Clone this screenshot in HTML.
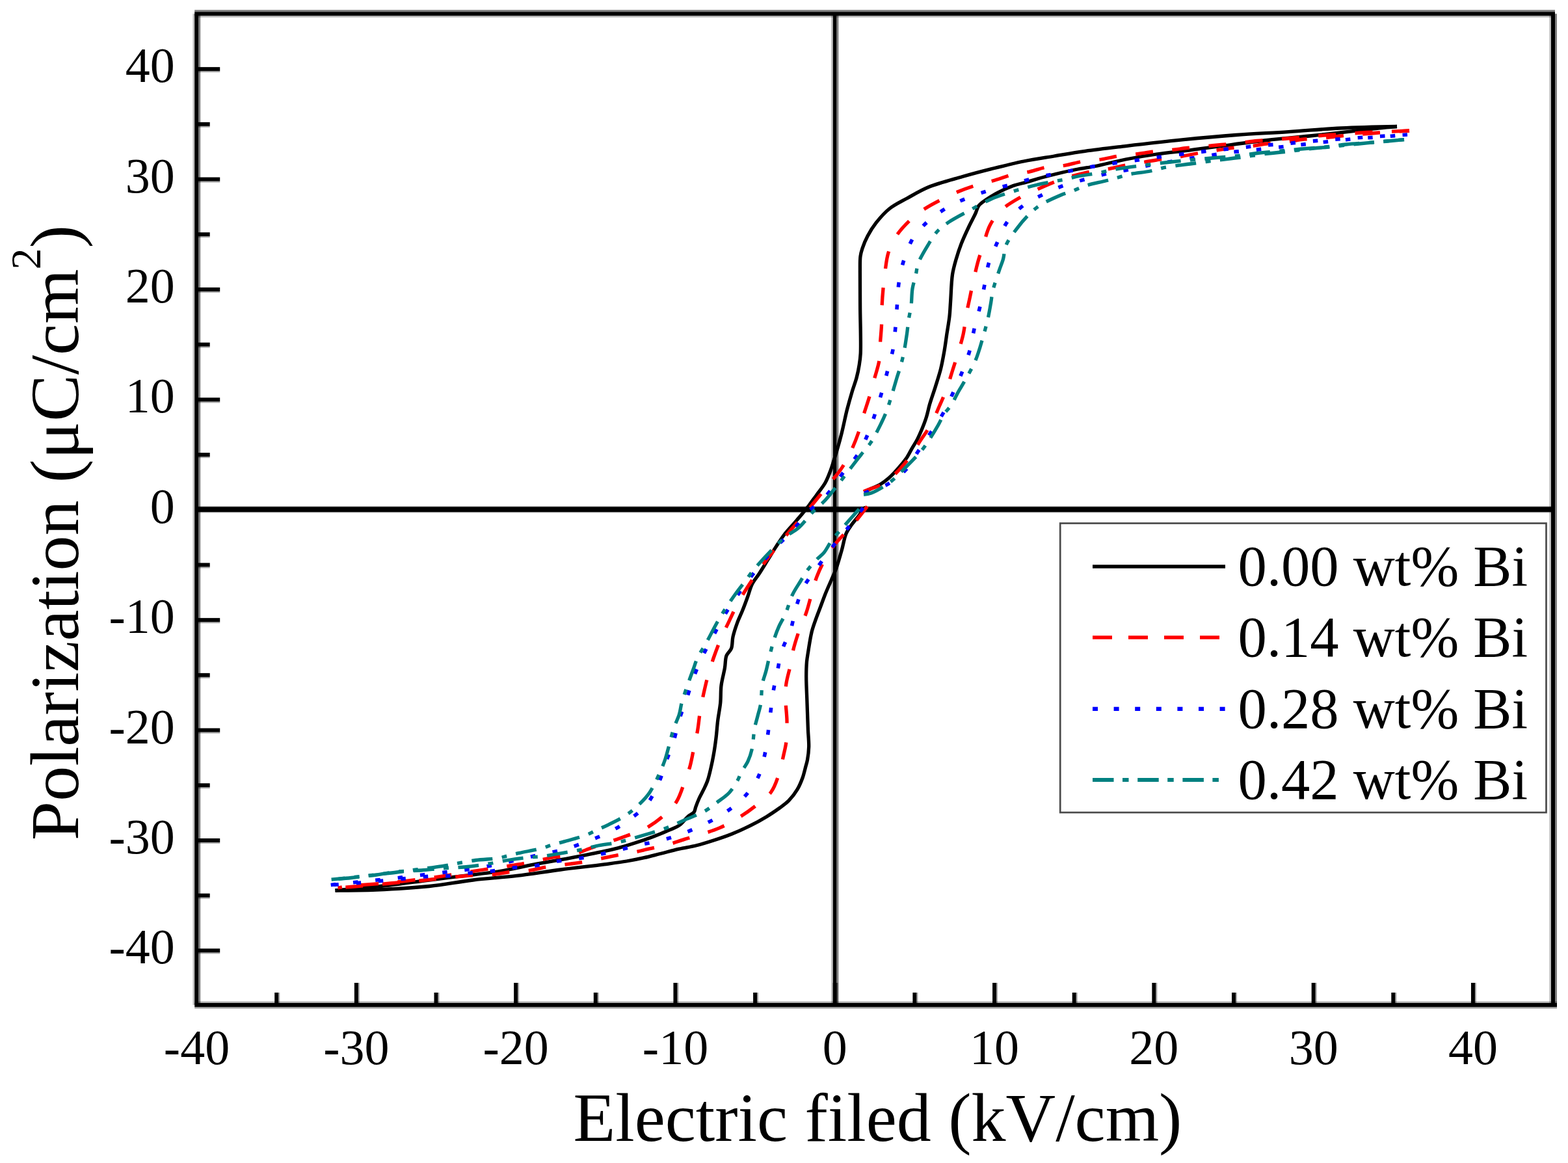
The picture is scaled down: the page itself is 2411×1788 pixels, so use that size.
<!DOCTYPE html>
<html><head><meta charset="utf-8"><title>P-E hysteresis loops</title>
<style>html,body{margin:0;padding:0;background:#fff;overflow:hidden}svg{display:block}</style>
</head><body>
<svg width="2411" height="1788" viewBox="0 0 2411 1788">
<rect x="0" y="0" width="2411" height="1788" fill="#fff"/>
<g id="frame"><rect x="1280.80" y="21.2" width="5.6" height="1523.8" fill="#000"/><rect x="1278.10" y="21.2" width="2.7" height="1523.8" fill="#000" fill-opacity="0.25"/><rect x="1286.40" y="21.2" width="3.0" height="1523.8" fill="#000" fill-opacity="0.5"/><rect x="302.2" y="779.20" width="2085.8" height="8.0" fill="#000"/><rect x="302.2" y="778.00" width="2085.8" height="1.2" fill="#000" fill-opacity="0.3"/><rect x="302.2" y="787.20" width="2085.8" height="1.2" fill="#000" fill-opacity="0.3"/><rect x="299.2" y="18.20" width="2091.8" height="6.0" fill="#000"/><rect x="299.2" y="15.20" width="2091.8" height="3.0" fill="#000" fill-opacity="0.5"/><rect x="299.2" y="24.20" width="2091.8" height="2.5" fill="#000" fill-opacity="0.28"/><rect x="299.2" y="1542.00" width="2094.8" height="6.0" fill="#000"/><rect x="299.2" y="1539.50" width="2094.8" height="2.5" fill="#000" fill-opacity="0.3"/><rect x="299.2" y="1548.00" width="2094.8" height="2.5" fill="#000" fill-opacity="0.4"/><rect x="299.20" y="21.2" width="6.0" height="1523.8" fill="#000"/><rect x="296.50" y="21.2" width="2.7" height="1523.8" fill="#000" fill-opacity="0.25"/><rect x="305.20" y="21.2" width="3.0" height="1523.8" fill="#000" fill-opacity="0.5"/><rect x="2385.00" y="21.2" width="6.0" height="1523.8" fill="#000"/><rect x="2382.30" y="21.2" width="2.7" height="1523.8" fill="#000" fill-opacity="0.25"/><rect x="2391.00" y="21.2" width="3.0" height="1523.8" fill="#000" fill-opacity="0.5"/></g>
<g id="curves"><path d="M2148.0,194.5 C2148.0,194.5 2090.2,195.6 2062.0,197.0 C2034.7,198.3 2008.4,200.9 1981.5,202.6 C1954.6,204.4 1927.7,205.5 1900.8,207.5 C1873.9,209.5 1847.6,211.9 1820.0,214.7 C1791.0,217.6 1758.0,221.4 1731.0,224.6 C1708.3,227.3 1687.9,229.6 1668.5,232.4 C1651.6,234.8 1636.8,237.4 1621.0,240.0 C1605.3,242.6 1589.6,244.8 1574.0,248.0 C1558.3,251.2 1542.6,255.1 1527.0,259.0 C1511.3,262.9 1496.0,266.9 1480.0,271.5 C1463.1,276.4 1443.2,281.3 1428.0,287.5 C1415.3,292.7 1405.0,299.2 1394.5,305.0 C1384.9,310.3 1375.5,314.6 1367.5,321.0 C1359.7,327.2 1352.8,335.3 1347.0,342.7 C1341.8,349.3 1337.6,356.2 1334.0,363.0 C1330.7,369.2 1327.9,376.1 1326.0,381.8 C1324.5,386.2 1323.6,389.2 1323.0,394.0 C1322.1,400.6 1322.5,408.5 1322.4,418.0 C1322.3,432.0 1322.5,451.2 1322.6,470.0 C1322.7,492.4 1324.0,527.4 1323.2,543.5 C1322.8,551.4 1322.2,555.0 1321.2,561.0 C1320.2,567.5 1318.8,574.3 1317.0,581.0 C1315.2,587.8 1312.6,594.0 1310.4,601.4 C1307.8,610.1 1305.0,620.0 1302.4,630.0 C1299.6,641.0 1297.1,654.4 1294.4,665.0 C1292.2,674.0 1289.9,682.3 1287.7,689.8 C1285.9,696.2 1284.1,701.6 1282.3,707.3 C1280.5,712.8 1279.1,717.9 1277.0,723.5 C1274.7,729.6 1272.3,736.2 1268.9,742.3 C1265.2,748.8 1259.7,755.3 1255.4,761.2 C1251.6,766.4 1248.2,771.2 1244.6,776.0 C1241.1,780.6 1237.9,784.7 1233.9,789.5 C1229.1,795.3 1222.7,802.5 1217.7,808.3 C1213.3,813.4 1209.3,817.5 1205.5,822.5 C1201.5,827.7 1198.1,833.0 1194.3,838.9 C1189.9,845.5 1185.3,853.2 1180.8,860.4 C1176.3,867.6 1171.6,875.4 1167.3,882.0 C1163.6,887.8 1159.4,892.2 1156.5,898.0 C1153.5,903.9 1152.2,910.5 1149.8,917.0 C1147.3,924.0 1144.5,931.6 1141.7,938.5 C1139.1,945.0 1136.1,950.7 1133.7,957.3 C1131.2,964.2 1128.5,972.0 1127.0,979.0 C1125.6,985.2 1126.5,991.9 1124.5,997.0 C1122.8,1001.3 1118.7,1003.6 1117.0,1008.0 C1115.0,1013.3 1115.6,1020.1 1114.4,1027.0 C1113.0,1035.2 1110.1,1044.9 1109.0,1053.9 C1107.9,1062.8 1108.6,1071.9 1107.7,1080.8 C1106.8,1089.8 1104.8,1098.7 1103.7,1107.7 C1102.6,1116.7 1102.1,1125.6 1101.0,1134.6 C1099.9,1143.6 1098.5,1153.4 1097.0,1161.6 C1095.8,1168.6 1094.5,1174.6 1093.0,1181.0 C1091.5,1187.4 1090.0,1194.3 1088.0,1200.0 C1086.3,1205.0 1084.1,1209.2 1082.0,1213.7 C1079.9,1218.2 1077.2,1222.5 1075.2,1227.0 C1073.2,1231.5 1071.2,1236.6 1069.8,1240.6 C1068.7,1243.6 1068.8,1246.4 1067.1,1248.7 C1065.1,1251.4 1061.0,1252.6 1057.7,1255.4 C1053.5,1259.0 1049.6,1265.2 1044.3,1268.9 C1038.5,1272.9 1030.8,1275.4 1024.0,1278.3 C1017.3,1281.2 1011.1,1283.7 1003.9,1286.4 C995.6,1289.5 986.0,1292.9 977.0,1295.8 C968.0,1298.7 958.4,1301.7 950.0,1303.9 C942.7,1305.8 937.8,1306.9 929.3,1308.7 C915.6,1311.7 893.4,1316.0 875.4,1319.4 C857.5,1322.8 839.5,1325.5 821.6,1328.9 C803.6,1332.3 785.7,1336.7 767.7,1339.6 C749.8,1342.5 731.8,1344.2 713.9,1346.4 C695.9,1348.6 678.6,1350.7 660.0,1353.0 C640.2,1355.5 618.8,1358.7 598.5,1361.0 C578.8,1363.2 555.3,1365.0 540.0,1366.5 C530.1,1367.5 515.5,1369.0 515.5,1369.0" fill="none" stroke="#000" stroke-width="5.3" stroke-linejoin="round"/><path d="M515.5,1369.0 C515.5,1369.0 556.3,1368.9 578.7,1368.0 C604.1,1366.9 634.2,1365.2 660.0,1362.5 C683.5,1360.0 704.8,1355.7 727.3,1353.0 C749.7,1350.3 772.2,1349.1 794.6,1346.4 C817.1,1343.7 839.5,1339.9 862.0,1337.0 C884.4,1334.1 910.6,1331.4 929.3,1328.9 C942.6,1327.1 952.8,1325.8 963.5,1324.0 C973.0,1322.4 981.5,1320.7 990.4,1318.7 C999.4,1316.7 1008.3,1314.2 1017.3,1312.0 C1026.3,1309.7 1035.3,1307.2 1044.3,1305.2 C1053.2,1303.2 1062.1,1302.0 1071.0,1299.8 C1080.0,1297.6 1089.0,1294.7 1098.0,1291.8 C1107.0,1288.9 1116.1,1285.9 1125.0,1282.3 C1134.1,1278.7 1143.1,1274.6 1152.0,1270.2 C1161.1,1265.7 1170.7,1260.4 1178.9,1255.4 C1186.2,1251.0 1193.0,1246.3 1199.0,1242.0 C1204.1,1238.3 1208.3,1235.5 1212.6,1231.2 C1217.4,1226.3 1222.4,1219.8 1226.0,1213.7 C1229.4,1208.0 1231.8,1202.0 1234.0,1196.0 C1236.1,1190.1 1237.6,1183.1 1239.0,1178.0 C1240.0,1174.3 1240.8,1172.2 1241.5,1168.3 C1242.5,1162.8 1243.5,1155.2 1243.7,1148.0 C1243.9,1139.7 1242.8,1131.0 1242.4,1121.2 C1241.9,1109.1 1241.5,1094.3 1241.0,1080.8 C1240.6,1067.3 1239.7,1052.0 1239.7,1040.4 C1239.7,1031.5 1239.9,1024.2 1240.5,1017.0 C1241.1,1010.9 1242.0,1006.4 1243.0,1000.0 C1244.3,991.8 1246.0,980.2 1248.0,972.0 C1249.6,965.5 1251.4,960.7 1253.5,954.6 C1255.9,947.8 1258.9,940.2 1261.6,933.0 C1264.3,925.8 1266.8,918.7 1269.7,911.6 C1272.6,904.4 1276.2,896.7 1279.0,890.0 C1281.5,884.2 1283.6,880.1 1285.8,873.9 C1288.7,865.7 1291.9,854.3 1294.5,845.0 C1296.9,836.5 1298.1,827.2 1301.0,820.4 C1303.3,815.1 1306.2,811.4 1309.3,807.0 C1312.5,802.4 1316.7,797.8 1320.0,793.5 C1322.9,789.7 1325.9,785.2 1328.0,782.7 C1329.2,781.3 1331.0,779.5 1331.0,779.5" fill="none" stroke="#000" stroke-width="5.3" stroke-linejoin="round"/><path d="M1328.5,756.0 C1328.5,756.0 1336.0,752.9 1340.0,751.0 C1344.6,748.9 1350.0,746.7 1354.6,743.9 C1359.1,741.1 1363.4,737.7 1367.2,734.4 C1370.7,731.4 1373.5,728.4 1376.6,725.0 C1380.0,721.3 1383.8,717.0 1386.9,713.2 C1389.7,709.7 1392.2,706.8 1394.7,703.0 C1397.5,698.7 1399.9,693.4 1402.6,688.8 C1405.2,684.3 1408.0,680.2 1410.5,675.4 C1413.3,670.1 1415.9,663.9 1418.3,658.1 C1420.6,652.4 1422.7,646.9 1424.5,641.0 C1426.4,634.8 1427.5,628.6 1429.5,621.6 C1431.9,613.3 1435.5,603.6 1438.3,594.6 C1441.1,585.6 1444.1,576.7 1446.4,567.7 C1448.6,558.8 1450.2,549.8 1451.8,540.8 C1453.4,531.9 1454.5,522.9 1455.8,513.9 C1457.2,504.9 1458.9,495.5 1459.9,487.0 C1460.8,479.3 1460.9,473.6 1461.5,465.0 C1462.4,453.0 1462.7,434.0 1464.5,422.0 C1465.9,413.1 1467.8,406.7 1470.0,399.0 C1472.3,391.0 1474.8,383.2 1478.0,375.0 C1481.4,366.2 1486.1,356.2 1490.0,348.0 C1493.3,341.0 1497.0,334.5 1499.7,328.7 C1501.8,324.1 1502.3,319.8 1505.0,316.2 C1507.7,312.6 1511.8,310.2 1516.0,307.2 C1521.1,303.6 1527.4,299.8 1533.9,296.4 C1541.2,292.5 1550.2,288.3 1558.0,285.5 C1565.1,283.0 1572.1,281.9 1578.7,280.0 C1584.9,278.2 1590.1,276.4 1596.7,274.5 C1604.7,272.2 1614.3,269.8 1623.6,267.5 C1633.6,265.1 1644.7,262.5 1655.0,260.5 C1664.8,258.6 1673.2,257.6 1684.0,255.5 C1697.8,252.8 1715.3,248.1 1731.0,245.0 C1746.8,241.9 1762.3,239.3 1778.5,237.0 C1795.3,234.6 1812.6,233.0 1830.0,230.8 C1847.9,228.5 1865.6,226.0 1884.6,223.6 C1905.2,220.9 1927.5,217.9 1949.0,215.5 C1970.6,213.1 1992.4,211.3 2014.0,209.0 C2035.5,206.7 2059.4,204.0 2078.5,201.8 C2093.9,200.1 2107.5,198.3 2120.0,197.0 C2130.2,196.0 2148.0,194.5 2148.0,194.5" fill="none" stroke="#000" stroke-width="5.3" stroke-linejoin="round"/><path d="M2167.0,201.0 C2167.0,201.0 2143.7,202.0 2131.8,202.5 C2119.6,203.0 2106.2,203.3 2094.6,204.0 C2084.3,204.6 2074.7,205.6 2065.6,206.2 C2057.6,206.7 2051.0,206.9 2043.0,207.5 C2033.9,208.2 2023.3,209.2 2014.0,210.0 C2005.5,210.7 1998.1,211.3 1989.6,212.0 C1980.3,212.8 1970.1,213.7 1960.5,214.5 C1951.2,215.2 1942.3,215.6 1933.0,216.5 C1923.5,217.4 1913.4,219.0 1904.0,220.0 C1895.1,221.0 1886.7,221.7 1878.0,222.5 C1869.3,223.3 1860.7,224.2 1852.0,225.0 C1843.1,225.8 1833.6,226.5 1825.0,227.5 C1817.0,228.4 1810.0,229.6 1802.0,230.5 C1793.4,231.5 1784.1,231.9 1775.0,233.0 C1765.7,234.1 1756.3,235.8 1747.0,237.0 C1737.7,238.2 1728.1,238.6 1719.0,240.0 C1710.3,241.3 1702.3,243.7 1693.6,245.0 C1684.4,246.4 1674.4,246.4 1665.0,248.0 C1655.6,249.6 1646.3,252.9 1637.0,254.4 C1628.0,255.8 1618.9,255.2 1610.0,256.8 C1601.1,258.4 1592.5,261.8 1583.7,263.8 C1574.9,265.7 1565.9,266.3 1557.0,268.5 C1548.0,270.7 1539.0,274.4 1530.0,277.0 C1521.2,279.6 1512.5,281.3 1503.6,284.0 C1494.2,286.9 1484.0,290.4 1475.0,294.0 C1466.6,297.4 1459.3,300.9 1451.0,305.0 C1441.9,309.6 1431.3,314.9 1422.7,320.5 C1414.8,325.6 1408.0,330.5 1401.0,337.0 C1393.1,344.4 1384.0,353.9 1378.0,363.0 C1372.6,371.2 1368.8,379.6 1366.0,388.5 C1363.1,397.5 1362.3,407.5 1361.0,416.8 C1359.7,425.9 1358.8,434.5 1358.0,443.7 C1357.1,453.2 1356.4,463.4 1356.0,473.0 C1355.6,482.2 1355.9,491.0 1355.5,500.0 C1355.1,509.0 1354.1,518.0 1353.5,527.0 C1352.9,536.0 1353.5,544.8 1352.0,554.0 C1350.4,563.8 1346.6,574.4 1344.0,584.0 C1341.6,592.8 1339.6,600.7 1337.0,609.5 C1334.2,619.0 1330.4,629.5 1327.5,639.0 C1324.8,647.9 1323.0,656.3 1320.0,665.0 C1316.9,674.1 1313.2,683.5 1309.0,692.5 C1304.7,701.6 1300.2,710.7 1294.4,719.4 C1288.3,728.7 1279.7,737.9 1272.9,746.4 C1266.8,754.0 1261.7,760.3 1255.4,768.0 C1248.0,777.1 1238.6,788.5 1231.0,797.5 C1224.4,805.3 1218.6,811.5 1212.3,819.0 C1205.5,827.0 1198.5,835.5 1191.6,844.2 C1184.4,853.3 1177.0,862.9 1170.0,872.5 C1163.0,882.1 1155.9,892.6 1149.8,902.0 C1144.4,910.4 1139.8,917.7 1135.0,926.4 C1129.8,936.0 1124.7,947.5 1120.0,957.3 C1115.7,966.2 1111.8,974.1 1108.0,983.0 C1104.1,992.3 1100.3,1002.6 1097.0,1012.0 C1094.0,1020.8 1091.4,1028.9 1088.9,1037.7 C1086.3,1046.9 1084.1,1056.7 1082.0,1066.0 C1080.0,1075.1 1078.2,1083.7 1076.7,1092.9 C1075.1,1102.5 1074.3,1113.0 1072.7,1122.5 C1071.2,1131.3 1069.2,1139.2 1067.3,1148.0 C1065.3,1157.6 1063.6,1168.7 1061.0,1178.0 C1058.7,1186.3 1056.1,1192.8 1053.0,1201.0 C1049.3,1210.7 1046.1,1223.3 1040.2,1232.5 C1034.5,1241.3 1026.9,1248.4 1018.7,1255.4 C1010.0,1262.9 998.8,1270.5 989.0,1275.6 C980.4,1280.0 972.2,1281.9 963.5,1285.0 C954.3,1288.3 944.4,1291.8 935.0,1295.0 C925.9,1298.1 917.0,1300.8 908.0,1304.0 C898.9,1307.2 890.2,1311.7 880.8,1314.0 C871.3,1316.4 860.8,1316.4 851.2,1318.0 C842.0,1319.6 833.3,1321.7 824.3,1323.5 C815.3,1325.3 806.3,1327.3 797.3,1328.9 C788.3,1330.5 779.4,1331.6 770.4,1333.0 C761.4,1334.3 753.5,1335.4 743.5,1337.0 C730.7,1339.0 714.2,1341.8 700.0,1344.0 C686.4,1346.1 674.7,1348.0 660.0,1350.0 C642.0,1352.4 620.0,1355.0 600.0,1357.0 C580.0,1359.0 554.7,1360.3 540.0,1362.0 C531.4,1363.0 519.5,1365.0 519.5,1365.0" fill="none" stroke="#ff0000" stroke-width="5.3" stroke-linejoin="round" stroke-dasharray="27 29.5"/><path d="M1333.5,778.7 C1333.5,778.7 1319.8,796.7 1313.3,804.3 C1307.7,810.9 1302.2,816.2 1297.0,822.0 C1292.1,827.4 1287.4,832.2 1283.0,838.0 C1278.3,844.1 1273.9,850.4 1269.7,857.7 C1264.9,866.1 1259.9,876.5 1256.2,886.0 C1252.7,895.0 1250.7,903.9 1248.0,913.0 C1245.3,922.3 1243.1,932.0 1240.0,941.2 C1236.9,950.3 1232.6,958.6 1229.3,968.0 C1225.7,978.1 1221.9,990.2 1219.5,1000.0 C1217.5,1008.2 1217.0,1014.8 1215.4,1022.9 C1213.5,1032.2 1209.9,1042.9 1208.7,1052.5 C1207.6,1061.3 1207.8,1069.2 1208.0,1078.0 C1208.2,1087.5 1209.8,1097.6 1210.0,1107.7 C1210.2,1118.2 1210.1,1130.4 1209.0,1140.0 C1208.1,1148.0 1206.4,1153.9 1204.7,1161.6 C1202.7,1170.4 1200.8,1180.7 1197.7,1190.0 C1194.5,1199.4 1191.5,1209.6 1185.6,1217.7 C1179.5,1226.1 1170.0,1232.4 1161.4,1239.2 C1152.5,1246.2 1142.6,1253.1 1133.1,1258.8 C1124.2,1264.2 1115.3,1268.9 1106.2,1272.9 C1097.4,1276.7 1088.3,1279.4 1079.3,1282.3 C1070.3,1285.2 1061.3,1287.6 1052.3,1290.4 C1043.3,1293.2 1034.5,1296.7 1025.4,1299.2 C1016.2,1301.7 1006.4,1303.1 997.1,1305.2 C988.0,1307.2 978.9,1309.8 970.2,1311.5 C962.2,1313.1 954.9,1313.9 946.8,1315.4 C938.1,1317.0 929.0,1319.0 919.9,1320.8 C910.6,1322.6 900.8,1324.7 891.6,1326.2 C882.9,1327.6 874.5,1328.4 866.0,1329.5 C857.5,1330.6 849.0,1331.6 840.4,1333.0 C831.5,1334.5 822.6,1337.1 813.5,1338.3 C804.2,1339.6 794.5,1339.4 785.2,1340.5 C776.1,1341.5 768.3,1343.5 758.3,1344.5 C745.9,1345.7 730.0,1345.5 716.6,1346.5 C704.0,1347.5 691.6,1349.2 680.0,1350.4 C669.5,1351.5 661.3,1352.4 650.0,1353.5 C635.5,1354.9 617.5,1356.4 600.0,1358.0 C580.7,1359.7 553.7,1362.3 539.0,1363.5 C530.7,1364.2 519.5,1365.0 519.5,1365.0" fill="none" stroke="#ff0000" stroke-width="5.3" stroke-linejoin="round" stroke-dasharray="27 29.5"/><path d="M1327.9,755.7 C1327.9,755.7 1332.5,753.7 1335.7,752.5 C1340.6,750.6 1349.1,748.4 1354.6,745.4 C1359.4,742.8 1363.1,739.1 1367.0,736.0 C1370.7,733.1 1373.6,731.3 1377.5,727.5 C1383.6,721.6 1392.4,711.4 1398.7,703.0 C1404.6,695.1 1409.0,686.9 1414.4,678.6 C1420.0,670.0 1426.4,661.7 1431.5,652.5 C1436.7,643.2 1440.8,632.5 1445.0,623.0 C1448.9,614.2 1452.5,606.2 1455.8,597.3 C1459.3,587.9 1462.2,577.2 1465.2,567.7 C1468.0,558.8 1470.7,550.9 1473.3,542.0 C1476.1,532.5 1479.4,522.2 1481.4,512.5 C1483.3,503.4 1483.8,494.7 1485.4,485.6 C1487.1,476.2 1489.4,466.2 1491.4,457.0 C1493.2,448.3 1494.8,440.3 1496.8,431.6 C1498.9,422.4 1501.0,412.5 1503.5,403.3 C1505.9,394.5 1508.7,386.6 1511.6,377.7 C1514.8,367.8 1517.3,355.9 1522.0,346.7 C1526.4,338.1 1531.6,330.7 1538.5,323.9 C1546.1,316.5 1557.0,310.1 1566.4,304.7 C1575.2,299.6 1583.6,296.2 1593.0,292.0 C1603.4,287.3 1616.0,281.7 1626.0,278.0 C1634.0,275.0 1640.2,273.2 1648.0,271.0 C1656.7,268.5 1666.7,265.8 1676.0,264.0 C1685.0,262.2 1693.9,261.6 1703.0,260.0 C1712.3,258.3 1721.9,255.7 1731.0,254.0 C1739.7,252.3 1747.8,251.2 1756.5,249.7 C1765.7,248.2 1776.0,246.3 1785.0,245.0 C1793.1,243.8 1799.3,243.4 1808.0,242.0 C1819.4,240.2 1837.0,236.3 1847.5,234.5 C1854.5,233.3 1858.5,233.0 1865.0,232.0 C1873.2,230.8 1883.6,228.6 1892.7,227.5 C1901.4,226.5 1909.7,226.5 1918.5,225.5 C1927.9,224.4 1938.0,222.1 1947.6,221.0 C1956.8,219.9 1966.0,220.1 1975.0,219.0 C1983.8,217.9 1992.1,215.6 2001.0,214.5 C2010.4,213.4 2020.5,213.3 2030.0,212.5 C2039.3,211.7 2048.3,210.4 2057.5,209.5 C2066.7,208.6 2075.3,207.9 2085.0,207.0 C2096.0,206.0 2107.5,204.9 2120.0,204.0 C2134.5,202.9 2167.0,201.0 2167.0,201.0" fill="none" stroke="#ff0000" stroke-width="5.3" stroke-linejoin="round" stroke-dasharray="27 29.5"/><path d="M2164.0,207.0 C2164.0,207.0 2140.7,208.4 2130.0,209.0 C2120.4,209.6 2112.2,210.1 2102.7,210.7 C2092.2,211.4 2080.6,212.2 2069.6,213.0 C2058.7,213.8 2047.8,214.7 2037.0,215.5 C2026.3,216.3 2015.8,217.0 2005.0,218.0 C1993.8,219.0 1982.1,220.6 1971.0,221.5 C1960.3,222.4 1950.1,222.7 1939.5,223.6 C1928.6,224.6 1917.5,226.1 1906.4,227.2 C1895.3,228.4 1883.9,229.3 1873.0,230.5 C1862.5,231.6 1852.2,232.8 1842.0,234.0 C1832.2,235.1 1823.0,236.2 1813.0,237.5 C1802.4,238.8 1790.3,240.4 1780.0,241.8 C1770.8,243.1 1763.1,244.3 1754.0,245.5 C1743.9,246.9 1732.7,248.2 1722.0,249.7 C1711.3,251.2 1700.5,252.6 1689.7,254.4 C1678.7,256.2 1667.7,258.6 1656.7,260.7 C1645.7,262.8 1634.6,264.9 1623.7,267.0 C1612.9,269.1 1602.3,270.9 1591.5,273.5 C1580.5,276.1 1569.5,279.7 1558.5,282.7 C1547.5,285.7 1536.5,288.0 1525.6,291.3 C1514.7,294.6 1503.7,298.1 1493.0,302.3 C1482.2,306.5 1471.4,310.7 1461.0,316.5 C1450.2,322.5 1438.4,330.5 1429.5,338.0 C1421.9,344.4 1414.9,352.1 1410.0,358.0 C1406.5,362.2 1404.6,364.5 1401.9,369.6 C1397.6,377.6 1392.3,391.5 1389.0,402.6 C1385.7,413.5 1383.6,424.7 1382.0,435.6 C1380.5,446.1 1380.4,456.3 1379.6,467.0 C1378.7,478.3 1378.0,490.3 1377.0,501.7 C1376.0,512.7 1375.6,523.3 1373.7,534.0 C1371.8,544.9 1368.4,555.6 1365.6,566.4 C1362.8,577.4 1360.0,588.4 1356.9,599.4 C1353.8,610.4 1350.3,621.6 1346.8,632.3 C1343.4,642.7 1340.4,652.6 1336.2,663.0 C1331.6,674.2 1326.7,686.2 1320.0,697.0 C1312.9,708.4 1302.6,718.7 1294.4,729.5 C1286.5,739.9 1280.2,750.9 1271.6,760.5 C1262.9,770.2 1251.6,777.9 1242.6,787.4 C1233.7,796.8 1226.5,807.6 1217.7,817.0 C1208.9,826.4 1199.1,834.2 1190.0,844.0 C1180.1,854.7 1169.6,867.5 1160.6,879.0 C1152.3,889.5 1145.1,899.5 1137.7,910.0 C1130.2,920.6 1122.8,931.4 1116.0,942.5 C1109.2,953.7 1103.0,965.8 1097.0,977.0 C1091.3,987.6 1085.8,997.4 1080.8,1008.0 C1075.7,1018.7 1070.8,1029.9 1066.6,1041.0 C1062.5,1051.9 1059.6,1063.1 1055.9,1074.0 C1052.2,1084.9 1047.7,1095.7 1044.4,1106.4 C1041.2,1116.8 1039.6,1126.9 1036.4,1137.3 C1033.0,1148.4 1028.2,1159.8 1024.2,1171.0 C1020.3,1182.1 1017.4,1193.5 1012.6,1204.2 C1007.7,1215.1 1002.6,1226.5 995.1,1235.9 C987.4,1245.5 976.8,1253.4 966.8,1260.8 C957.0,1268.0 946.6,1274.3 936.0,1279.7 C925.6,1285.0 914.5,1289.0 903.7,1293.2 C893.1,1297.3 881.7,1301.7 872.0,1304.6 C864.0,1307.0 857.9,1308.2 849.8,1310.0 C840.2,1312.2 829.0,1314.3 818.2,1316.7 C806.8,1319.2 794.3,1322.3 783.2,1324.8 C773.1,1327.0 764.2,1329.0 754.3,1330.9 C743.9,1332.9 732.2,1334.8 722.0,1336.3 C713.0,1337.6 706.2,1338.4 696.4,1339.6 C683.2,1341.2 665.8,1343.1 650.0,1345.0 C633.6,1346.9 616.7,1349.2 600.0,1351.0 C583.3,1352.8 566.3,1354.3 550.0,1356.0 C534.3,1357.6 503.7,1361.0 503.7,1361.0" fill="none" stroke="#0000ff" stroke-width="5.6" stroke-linejoin="round" stroke-dasharray="7.5 27"/><path d="M1327.0,781.0 C1327.0,781.0 1312.7,800.1 1305.0,810.0 C1296.8,820.5 1287.4,831.3 1279.0,842.2 C1270.7,853.0 1262.3,864.7 1254.8,875.2 C1248.1,884.6 1241.1,892.3 1236.0,902.0 C1230.7,912.0 1227.3,923.4 1223.9,934.4 C1220.5,945.4 1219.4,957.0 1215.8,968.0 C1212.1,979.2 1205.5,989.9 1202.0,1001.0 C1198.7,1011.6 1197.4,1022.2 1195.2,1033.0 C1192.9,1043.9 1190.3,1055.0 1188.5,1066.0 C1186.7,1076.8 1185.8,1087.5 1184.5,1098.3 C1183.1,1109.2 1182.0,1120.3 1180.4,1131.3 C1178.8,1142.3 1177.6,1153.4 1175.0,1164.3 C1172.4,1175.3 1170.1,1186.5 1164.8,1196.8 C1159.1,1207.9 1150.4,1219.2 1141.2,1228.5 C1132.0,1237.8 1120.6,1245.7 1109.6,1252.7 C1099.0,1259.5 1087.6,1265.0 1076.6,1270.2 C1066.2,1275.1 1056.0,1279.3 1045.6,1283.0 C1035.5,1286.6 1025.7,1289.7 1015.3,1292.4 C1004.6,1295.2 993.2,1296.7 982.3,1299.2 C971.4,1301.7 960.9,1304.7 950.0,1307.3 C939.0,1309.9 927.6,1312.4 916.5,1314.7 C905.7,1316.9 895.1,1319.1 884.2,1320.8 C873.3,1322.5 862.0,1323.0 851.2,1324.8 C840.5,1326.6 830.3,1330.0 819.6,1331.6 C808.8,1333.2 797.5,1333.0 786.6,1334.3 C775.7,1335.6 765.1,1338.2 754.3,1339.5 C743.6,1340.8 732.5,1341.1 722.0,1342.3 C711.9,1343.5 702.1,1345.7 692.3,1346.5 C682.8,1347.3 675.3,1346.4 664.0,1347.0 C646.9,1347.9 620.0,1351.2 600.0,1353.0 C582.3,1354.6 566.4,1356.1 550.0,1357.5 C534.3,1358.8 503.7,1361.0 503.7,1361.0" fill="none" stroke="#0000ff" stroke-width="5.6" stroke-linejoin="round" stroke-dasharray="7.5 27"/><path d="M1329.0,758.0 C1329.0,758.0 1339.5,754.0 1345.0,752.0 C1350.9,749.8 1356.8,749.0 1363.3,745.4 C1372.3,740.4 1384.2,731.4 1392.4,722.6 C1400.4,714.0 1405.5,703.1 1412.0,693.5 C1418.4,684.0 1424.7,674.8 1431.0,665.2 C1437.5,655.3 1444.6,645.4 1450.4,635.0 C1456.2,624.6 1461.0,613.5 1466.0,602.7 C1470.9,592.0 1475.7,581.3 1480.0,570.4 C1484.2,559.5 1488.5,548.4 1491.5,537.4 C1494.4,526.8 1495.5,516.7 1498.0,505.8 C1500.7,494.0 1504.8,480.6 1507.5,469.0 C1509.9,458.7 1511.6,449.7 1513.6,439.6 C1515.8,428.8 1516.8,416.9 1520.0,406.0 C1523.2,395.0 1528.3,384.4 1533.0,373.7 C1537.8,362.9 1541.8,351.1 1548.6,341.4 C1555.3,331.8 1564.2,322.9 1573.5,315.8 C1582.7,308.8 1593.6,304.1 1604.0,299.0 C1614.4,293.9 1625.1,288.9 1636.0,285.0 C1646.8,281.1 1658.0,278.6 1669.0,275.6 C1680.0,272.6 1691.0,269.4 1702.0,267.0 C1712.8,264.6 1723.6,263.2 1734.5,261.0 C1745.5,258.8 1756.5,256.1 1767.5,254.0 C1778.4,251.9 1789.1,250.3 1800.0,248.5 C1811.0,246.7 1822.3,244.7 1833.0,243.0 C1843.2,241.4 1853.0,240.0 1863.0,238.5 C1873.1,237.0 1883.2,235.2 1893.5,234.0 C1904.1,232.7 1915.0,232.2 1925.8,231.0 C1936.8,229.8 1948.0,228.2 1959.0,227.0 C1969.8,225.8 1980.3,224.8 1991.0,223.6 C2001.9,222.4 2013.1,220.8 2024.0,219.6 C2034.7,218.4 2045.4,217.4 2056.0,216.3 C2066.4,215.2 2076.5,213.9 2087.0,213.0 C2097.9,212.0 2108.6,211.6 2120.5,210.7 C2134.1,209.7 2164.0,207.0 2164.0,207.0" fill="none" stroke="#0000ff" stroke-width="5.6" stroke-linejoin="round" stroke-dasharray="7.5 27"/><path d="M2159.0,214.7 C2159.0,214.7 2126.4,217.7 2111.0,219.0 C2096.8,220.2 2082.2,220.8 2070.0,222.0 C2060.0,223.0 2053.0,224.4 2043.0,225.5 C2030.6,226.8 2013.3,227.9 2001.0,229.0 C1991.3,229.9 1984.7,230.6 1975.0,231.5 C1962.7,232.7 1945.3,234.1 1933.0,235.5 C1923.3,236.6 1916.8,237.9 1907.0,239.0 C1894.4,240.4 1877.1,241.8 1863.6,243.0 C1851.7,244.1 1841.3,244.9 1830.0,246.0 C1818.6,247.1 1805.7,248.4 1795.7,249.5 C1787.9,250.4 1781.7,251.2 1775.0,252.0 C1768.7,252.8 1763.4,253.5 1756.5,254.4 C1747.7,255.5 1735.4,257.0 1726.6,258.3 C1719.6,259.4 1714.0,260.2 1707.8,261.5 C1701.5,262.8 1696.1,264.6 1689.0,266.0 C1679.9,267.8 1666.6,269.2 1657.5,271.0 C1650.4,272.4 1644.7,274.3 1638.7,275.6 C1633.2,276.8 1629.1,277.3 1623.0,278.5 C1614.6,280.1 1601.8,282.5 1593.0,284.5 C1585.9,286.1 1580.3,287.7 1574.0,289.5 C1567.8,291.2 1562.4,292.7 1555.4,295.0 C1546.3,297.9 1534.5,301.4 1524.0,306.0 C1512.7,310.9 1501.0,317.9 1490.0,323.9 C1479.4,329.7 1467.7,335.5 1459.0,341.4 C1452.0,346.2 1446.2,350.4 1441.0,356.0 C1435.8,361.6 1432.4,367.8 1428.0,375.0 C1422.7,383.7 1415.3,395.6 1412.0,404.6 C1409.5,411.4 1409.5,417.1 1408.0,423.5 C1406.5,430.1 1404.2,436.5 1403.0,443.7 C1401.7,451.8 1402.1,461.6 1401.0,470.0 C1400.0,477.8 1398.1,485.0 1397.0,492.3 C1396.0,499.2 1395.6,505.1 1394.6,512.5 C1393.3,521.4 1391.6,533.1 1389.8,542.0 C1388.3,549.3 1386.8,555.5 1385.0,562.0 C1383.2,568.4 1381.2,573.9 1379.0,581.0 C1376.3,590.0 1372.8,602.5 1370.0,611.5 C1367.7,618.7 1366.1,624.5 1363.6,631.0 C1361.0,637.7 1358.3,643.8 1354.8,651.0 C1350.4,659.9 1344.5,671.9 1338.9,680.4 C1334.2,687.6 1328.9,692.7 1324.0,699.0 C1319.1,705.3 1314.7,711.0 1309.3,718.0 C1302.5,726.8 1293.6,738.7 1286.4,747.7 C1280.2,755.4 1275.0,762.5 1268.9,769.0 C1263.3,775.0 1257.6,779.1 1251.4,785.4 C1243.8,793.1 1235.1,805.3 1227.0,812.3 C1220.5,817.9 1215.2,819.1 1207.7,825.4 C1195.0,836.1 1171.4,861.2 1160.6,873.9 C1154.2,881.4 1151.3,886.3 1146.5,892.7 C1141.5,899.3 1136.3,905.6 1131.0,913.0 C1124.9,921.5 1117.4,932.7 1112.0,941.2 C1107.7,948.0 1104.9,953.0 1101.0,960.0 C1096.1,968.8 1090.1,981.0 1085.0,990.0 C1080.7,997.6 1076.0,1004.0 1072.7,1010.8 C1069.8,1016.9 1068.3,1022.6 1066.0,1029.0 C1063.4,1036.0 1060.7,1043.3 1058.0,1051.2 C1054.9,1060.0 1050.9,1070.9 1048.5,1079.4 C1046.6,1086.3 1046.3,1092.0 1044.4,1098.3 C1042.4,1105.0 1038.9,1111.1 1036.4,1118.5 C1033.4,1127.3 1030.7,1139.2 1028.3,1148.0 C1026.3,1155.0 1025.1,1160.6 1022.9,1167.0 C1020.7,1173.6 1018.3,1179.6 1015.0,1187.0 C1010.7,1196.5 1004.5,1210.2 998.5,1219.0 C993.7,1226.1 988.7,1231.0 983.0,1236.5 C977.1,1242.2 970.9,1247.7 963.5,1252.7 C955.1,1258.4 943.0,1264.2 934.7,1268.3 C928.6,1271.3 924.1,1273.1 918.5,1275.7 C912.5,1278.5 906.9,1281.7 899.7,1284.4 C890.5,1287.9 876.5,1291.3 867.3,1293.9 C860.6,1295.8 855.7,1296.9 849.8,1298.6 C843.6,1300.4 838.2,1302.7 831.0,1304.6 C821.7,1307.0 808.0,1309.3 798.7,1311.4 C791.5,1313.0 785.6,1314.6 779.8,1316.0 C774.9,1317.2 772.0,1318.5 766.4,1319.4 C757.5,1320.9 742.7,1321.0 731.4,1322.5 C720.6,1323.9 709.3,1326.4 700.0,1328.0 C692.6,1329.3 687.8,1330.4 680.0,1331.6 C669.0,1333.3 652.4,1335.3 640.0,1337.0 C629.3,1338.4 620.4,1339.7 610.0,1341.0 C598.8,1342.4 586.7,1343.6 575.0,1345.0 C563.3,1346.4 551.3,1348.3 540.0,1349.5 C529.5,1350.6 509.6,1352.2 509.6,1352.2" fill="none" stroke="#008080" stroke-width="5.3" stroke-linejoin="round" stroke-dasharray="32 14.5 8 14.5"/><path d="M1321.0,782.7 C1321.0,782.7 1304.4,801.2 1297.0,809.7 C1290.5,817.1 1284.2,823.8 1279.0,830.8 C1274.3,837.1 1271.2,844.5 1267.0,849.6 C1263.5,853.8 1259.7,856.1 1256.0,860.0 C1251.7,864.5 1246.8,869.7 1242.7,875.2 C1238.3,881.0 1234.6,887.6 1230.6,894.0 C1226.5,900.6 1222.1,906.7 1218.5,914.3 C1214.3,923.1 1211.5,935.2 1207.7,943.9 C1204.5,951.2 1200.5,956.8 1197.6,963.4 C1194.7,969.8 1192.5,975.9 1190.2,983.0 C1187.6,991.2 1185.2,1001.4 1183.0,1010.0 C1181.0,1017.8 1179.6,1025.2 1177.7,1032.3 C1176.0,1038.9 1173.6,1044.1 1172.3,1051.2 C1170.7,1060.2 1171.2,1073.0 1169.7,1082.0 C1168.5,1089.1 1166.6,1094.7 1165.0,1101.0 C1163.4,1107.3 1161.6,1112.6 1160.2,1119.8 C1158.5,1129.1 1158.3,1142.9 1156.2,1152.0 C1154.6,1159.1 1152.7,1164.5 1150.0,1170.3 C1147.3,1176.1 1142.8,1181.7 1140.0,1187.0 C1137.6,1191.5 1136.6,1195.4 1134.0,1200.0 C1130.7,1205.9 1126.2,1213.4 1121.0,1219.0 C1115.6,1224.7 1108.4,1229.1 1102.0,1233.9 C1095.8,1238.6 1090.6,1243.2 1083.3,1247.3 C1074.5,1252.3 1060.9,1256.9 1052.3,1260.8 C1046.0,1263.6 1041.8,1265.8 1036.2,1268.2 C1030.2,1270.8 1024.4,1273.1 1017.3,1275.6 C1008.3,1278.7 995.6,1282.2 986.4,1285.0 C979.0,1287.2 972.6,1289.2 966.2,1291.0 C960.4,1292.6 956.0,1293.8 949.5,1295.2 C940.5,1297.1 926.5,1298.7 917.2,1300.6 C910.0,1302.1 904.5,1303.9 898.3,1305.3 C892.4,1306.6 887.5,1307.5 880.8,1308.7 C871.9,1310.3 858.5,1312.5 849.8,1314.0 C843.6,1315.1 839.3,1316.0 833.7,1316.7 C827.7,1317.4 821.9,1317.3 814.8,1318.0 C805.7,1318.9 794.7,1320.3 783.9,1322.0 C771.9,1323.9 758.3,1327.0 746.2,1328.9 C735.0,1330.6 724.8,1332.0 713.9,1333.0 C702.9,1334.0 691.6,1334.2 680.5,1335.0 C669.6,1335.8 659.1,1337.2 648.0,1338.0 C636.3,1338.9 623.7,1338.8 612.0,1340.0 C600.7,1341.2 589.8,1343.6 578.7,1345.0 C567.5,1346.4 556.4,1347.3 545.0,1348.5 C533.3,1349.7 509.6,1352.2 509.6,1352.2" fill="none" stroke="#008080" stroke-width="5.3" stroke-linejoin="round" stroke-dasharray="32 14.5 8 14.5"/><path d="M1328.0,760.4 C1328.0,760.4 1335.5,759.5 1339.7,758.0 C1345.2,756.0 1352.0,752.2 1357.8,748.6 C1363.8,744.9 1369.6,740.7 1375.0,736.0 C1380.6,731.2 1384.9,726.4 1390.8,720.3 C1398.6,712.3 1410.5,700.7 1417.6,692.0 C1422.9,685.5 1426.3,680.0 1430.4,673.7 C1434.6,667.2 1438.9,660.0 1442.6,653.5 C1446.0,647.5 1448.5,641.3 1452.0,636.0 C1455.2,631.2 1459.3,628.0 1462.6,623.0 C1466.5,617.1 1469.8,609.0 1473.3,602.7 C1476.5,597.0 1479.3,593.0 1482.8,586.6 C1487.8,577.7 1495.3,565.2 1500.0,554.0 C1504.6,543.0 1507.8,531.0 1511.0,520.0 C1514.0,509.7 1516.8,499.6 1519.0,490.0 C1521.0,481.3 1522.4,472.6 1523.7,465.0 C1524.8,458.7 1524.9,454.2 1526.4,447.7 C1528.5,438.8 1533.0,425.8 1536.0,416.8 C1538.3,409.7 1540.8,404.5 1542.6,398.0 C1544.4,391.4 1543.8,384.7 1546.6,377.7 C1550.1,369.0 1557.8,359.0 1564.0,350.8 C1569.7,343.2 1575.8,336.1 1582.0,330.0 C1587.5,324.5 1592.1,320.2 1599.0,315.7 C1607.7,310.0 1621.8,303.9 1631.0,300.0 C1637.8,297.2 1642.9,296.0 1649.0,293.7 C1655.4,291.3 1661.1,288.2 1668.5,285.8 C1677.7,282.8 1690.9,280.3 1700.0,278.0 C1707.1,276.2 1712.5,274.7 1718.8,273.0 C1725.1,271.3 1730.5,269.3 1737.6,267.8 C1746.7,265.9 1760.0,264.9 1769.0,263.0 C1775.9,261.6 1780.8,259.6 1787.0,258.3 C1793.4,256.9 1799.8,256.0 1806.7,255.0 C1814.1,253.9 1821.2,253.2 1830.0,252.0 C1841.5,250.5 1856.9,248.2 1870.0,246.5 C1882.6,244.9 1894.2,243.7 1907.0,242.0 C1920.8,240.2 1937.6,237.5 1950.0,236.0 C1959.4,234.9 1965.5,234.6 1975.0,233.5 C1987.8,232.1 2007.5,229.3 2020.0,228.0 C2028.9,227.1 2034.0,226.9 2043.0,226.0 C2055.9,224.8 2076.1,222.4 2090.0,221.0 C2101.1,219.9 2109.3,219.0 2120.0,218.0 C2132.1,216.9 2159.0,214.7 2159.0,214.7" fill="none" stroke="#008080" stroke-width="5.3" stroke-linejoin="round" stroke-dasharray="32 14.5 8 14.5"/></g>
<g id="ticks"><rect x="302.2" y="1458.35" width="36" height="6" fill="#000"/><rect x="302.2" y="1464.35" width="36" height="2" fill="#000" fill-opacity="0.35"/><rect x="302.2" y="1373.65" width="20.5" height="6" fill="#000"/><rect x="302.2" y="1379.65" width="20.5" height="2" fill="#000" fill-opacity="0.35"/><rect x="302.2" y="1288.95" width="36" height="6" fill="#000"/><rect x="302.2" y="1294.95" width="36" height="2" fill="#000" fill-opacity="0.35"/><rect x="302.2" y="1204.25" width="20.5" height="6" fill="#000"/><rect x="302.2" y="1210.25" width="20.5" height="2" fill="#000" fill-opacity="0.35"/><rect x="302.2" y="1119.55" width="36" height="6" fill="#000"/><rect x="302.2" y="1125.55" width="36" height="2" fill="#000" fill-opacity="0.35"/><rect x="302.2" y="1034.85" width="20.5" height="6" fill="#000"/><rect x="302.2" y="1040.85" width="20.5" height="2" fill="#000" fill-opacity="0.35"/><rect x="302.2" y="950.15" width="36" height="6" fill="#000"/><rect x="302.2" y="956.15" width="36" height="2" fill="#000" fill-opacity="0.35"/><rect x="302.2" y="865.45" width="20.5" height="6" fill="#000"/><rect x="302.2" y="871.45" width="20.5" height="2" fill="#000" fill-opacity="0.35"/><rect x="302.2" y="780.75" width="36" height="6" fill="#000"/><rect x="302.2" y="696.05" width="20.5" height="6" fill="#000"/><rect x="302.2" y="702.05" width="20.5" height="2" fill="#000" fill-opacity="0.35"/><rect x="302.2" y="611.35" width="36" height="6" fill="#000"/><rect x="302.2" y="617.35" width="36" height="2" fill="#000" fill-opacity="0.35"/><rect x="302.2" y="526.65" width="20.5" height="6" fill="#000"/><rect x="302.2" y="532.65" width="20.5" height="2" fill="#000" fill-opacity="0.35"/><rect x="302.2" y="441.95" width="36" height="6" fill="#000"/><rect x="302.2" y="447.95" width="36" height="2" fill="#000" fill-opacity="0.35"/><rect x="302.2" y="357.25" width="20.5" height="6" fill="#000"/><rect x="302.2" y="363.25" width="20.5" height="2" fill="#000" fill-opacity="0.35"/><rect x="302.2" y="272.55" width="36" height="6" fill="#000"/><rect x="302.2" y="278.55" width="36" height="2" fill="#000" fill-opacity="0.35"/><rect x="302.2" y="187.85" width="20.5" height="6" fill="#000"/><rect x="302.2" y="193.85" width="20.5" height="2" fill="#000" fill-opacity="0.35"/><rect x="302.2" y="103.15" width="36" height="6" fill="#000"/><rect x="302.2" y="109.15" width="36" height="2" fill="#000" fill-opacity="0.35"/><rect x="422.20" y="1526.0" width="6" height="19" fill="#000"/><rect x="428.20" y="1526.0" width="2" height="19" fill="#000" fill-opacity="0.35"/><rect x="544.85" y="1511.0" width="6" height="34" fill="#000"/><rect x="550.85" y="1511.0" width="2" height="34" fill="#000" fill-opacity="0.35"/><rect x="667.50" y="1526.0" width="6" height="19" fill="#000"/><rect x="673.50" y="1526.0" width="2" height="19" fill="#000" fill-opacity="0.35"/><rect x="790.15" y="1511.0" width="6" height="34" fill="#000"/><rect x="796.15" y="1511.0" width="2" height="34" fill="#000" fill-opacity="0.35"/><rect x="912.80" y="1526.0" width="6" height="19" fill="#000"/><rect x="918.80" y="1526.0" width="2" height="19" fill="#000" fill-opacity="0.35"/><rect x="1035.45" y="1511.0" width="6" height="34" fill="#000"/><rect x="1041.45" y="1511.0" width="2" height="34" fill="#000" fill-opacity="0.35"/><rect x="1158.10" y="1526.0" width="6" height="19" fill="#000"/><rect x="1164.10" y="1526.0" width="2" height="19" fill="#000" fill-opacity="0.35"/><rect x="1280.75" y="1511.0" width="6" height="34" fill="#000"/><rect x="1286.75" y="1511.0" width="2" height="34" fill="#000" fill-opacity="0.35"/><rect x="1403.40" y="1526.0" width="6" height="19" fill="#000"/><rect x="1409.40" y="1526.0" width="2" height="19" fill="#000" fill-opacity="0.35"/><rect x="1526.05" y="1511.0" width="6" height="34" fill="#000"/><rect x="1532.05" y="1511.0" width="2" height="34" fill="#000" fill-opacity="0.35"/><rect x="1648.70" y="1526.0" width="6" height="19" fill="#000"/><rect x="1654.70" y="1526.0" width="2" height="19" fill="#000" fill-opacity="0.35"/><rect x="1771.35" y="1511.0" width="6" height="34" fill="#000"/><rect x="1777.35" y="1511.0" width="2" height="34" fill="#000" fill-opacity="0.35"/><rect x="1894.00" y="1526.0" width="6" height="19" fill="#000"/><rect x="1900.00" y="1526.0" width="2" height="19" fill="#000" fill-opacity="0.35"/><rect x="2016.65" y="1511.0" width="6" height="34" fill="#000"/><rect x="2022.65" y="1511.0" width="2" height="34" fill="#000" fill-opacity="0.35"/><rect x="2139.30" y="1526.0" width="6" height="19" fill="#000"/><rect x="2145.30" y="1526.0" width="2" height="19" fill="#000" fill-opacity="0.35"/><rect x="2261.95" y="1511.0" width="6" height="34" fill="#000"/><rect x="2267.95" y="1511.0" width="2" height="34" fill="#000" fill-opacity="0.35"/></g>
<g id="labels" font-family="'Liberation Serif', 'Times New Roman', serif" fill="#000"><text x="268.8" y="1481.3" text-anchor="end" font-size="76">-40</text><text x="268.8" y="1312.0" text-anchor="end" font-size="76">-30</text><text x="268.8" y="1142.5" text-anchor="end" font-size="76">-20</text><text x="268.8" y="973.1" text-anchor="end" font-size="76">-10</text><text x="268.8" y="803.8" text-anchor="end" font-size="76">0</text><text x="268.8" y="634.4" text-anchor="end" font-size="76">10</text><text x="268.8" y="464.9" text-anchor="end" font-size="76">20</text><text x="268.8" y="295.5" text-anchor="end" font-size="76">30</text><text x="268.8" y="126.1" text-anchor="end" font-size="76">40</text><text x="302.5" y="1636" text-anchor="middle" font-size="76">-40</text><text x="547.8" y="1636" text-anchor="middle" font-size="76">-30</text><text x="793.1" y="1636" text-anchor="middle" font-size="76">-20</text><text x="1038.5" y="1636" text-anchor="middle" font-size="76">-10</text><text x="1283.8" y="1636" text-anchor="middle" font-size="76">0</text><text x="1529.0" y="1636" text-anchor="middle" font-size="76">10</text><text x="1774.3" y="1636" text-anchor="middle" font-size="76">20</text><text x="2019.7" y="1636" text-anchor="middle" font-size="76">30</text><text x="2264.9" y="1636" text-anchor="middle" font-size="76">40</text><text x="881.5" y="1754.3" font-size="106" textLength="935.9" lengthAdjust="spacingAndGlyphs">Electric filed (kV/cm)</text><g transform="translate(119.5,1292) rotate(-90)"><text x="0" y="0" font-size="106" textLength="878.3" lengthAdjust="spacingAndGlyphs">Polarization (μC/cm</text><text x="877.4" y="-58" font-size="66">2</text><text x="910.6" y="0" font-size="106">)</text></g><text x="1903.6" y="900.2" font-size="88" textLength="445.5" lengthAdjust="spacingAndGlyphs">0.00 wt% Bi</text><text x="1903.6" y="1009.4" font-size="88" textLength="445.5" lengthAdjust="spacingAndGlyphs">0.14 wt% Bi</text><text x="1903.6" y="1118.5" font-size="88" textLength="445.5" lengthAdjust="spacingAndGlyphs">0.28 wt% Bi</text><text x="1903.6" y="1227.6" font-size="88" textLength="445.5" lengthAdjust="spacingAndGlyphs">0.42 wt% Bi</text></g>
<g id="legend"><rect x="1630.2" y="804.5" width="747.3" height="444.6" fill="none" stroke="#4a4a4a" stroke-width="2.7"/><line x1="1680" y1="871" x2="1884" y2="871" stroke="#000" stroke-width="5.6"/><line x1="1680" y1="980" x2="1884" y2="980" stroke="#ff0000" stroke-width="5.4" stroke-dasharray="30 25"/><line x1="1680" y1="1089.8" x2="1890" y2="1089.8" stroke="#0000ff" stroke-width="6.2" stroke-dasharray="8 24.6"/><line x1="1680" y1="1199" x2="1880" y2="1199" stroke="#008080" stroke-width="6.0" stroke-dasharray="32.5 13.5 9.5 13.7"/></g>
</svg>
</body></html>
